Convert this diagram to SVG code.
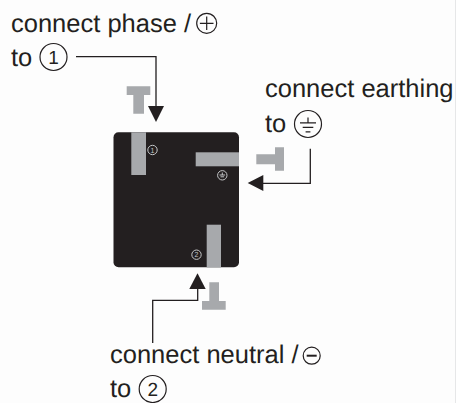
<svg xmlns="http://www.w3.org/2000/svg" width="456" height="403" viewBox="0 0 456 403">
<style>
.t{font-family:"Liberation Sans",Arial,sans-serif;font-size:25.5px;fill:#231f20;text-rendering:geometricPrecision}
.d{font-family:"Liberation Sans",Arial,sans-serif;font-size:19px;fill:#231f20;text-anchor:middle;text-rendering:geometricPrecision}
.b{fill:#a7a9ac}
.l{fill:none;stroke:#231f20;stroke-width:1.3}
.c{fill:none;stroke:#231f20;stroke-width:1.2}
.m{fill:none;stroke:#c4c6c8;stroke-width:1}
.n{font-family:"Liberation Sans",Arial,sans-serif;font-size:7px;fill:#c4c6c8;text-anchor:middle}
.a{fill:#231f20}
</style>
<rect width="456" height="403" fill="#fdfdfd"/>
<g id="device">
<rect x="113.500" y="132.300" width="125.500" height="135" rx="5" fill="#231f20"/>
<rect class="b" x="131.300" y="132.300" width="14.700" height="42.700"/>
<rect class="b" x="195.700" y="152.300" width="43.300" height="14"/>
<rect class="b" x="206.700" y="224.700" width="14.300" height="42.800"/>
<circle class="m" cx="152.500" cy="150" r="4.700"/><text class="n" x="152.500" y="152.500">1</text>
<circle class="m" cx="222.300" cy="175.300" r="4.700"/><path class="m" d="M222.300 172.500v2.500M219.500 175h5.600M220.500 176.800h3.600"/>
<circle class="m" cx="196.500" cy="254.700" r="4.700"/><text class="n" x="196.500" y="257.200">2</text>
</g>
<g id="plug-phase"><path class="b" d="M126.700 86.300H150.300V95H144V113.700H133.300V95H126.700Z"/></g>
<g id="plug-earth"><path class="b" d="M256.300 154.300H275V147.300H284V170.700H275V164.300H256.300Z"/></g>
<g id="plug-neutral"><path class="b" d="M209.300 282.300H219V301H225.700V309.700H202V301H209.300Z"/></g>
<g id="connectors">
<path class="l" d="M76 56.700H156V107"/><path class="a" d="M148 106H164L156 122Z"/>
<path class="l" d="M310.300 148.700V183.300H262"/><path class="a" d="M263.300 175V191L247.700 183Z"/>
<path class="l" d="M152.700 343V300.300H197.700V288"/><path class="a" d="M189.300 289H205.700L197.500 273.300Z"/>
</g>
<g id="label-phase">
<text class="t" x="11" y="32">connect phase /</text>
<circle class="c" cx="206.700" cy="23.300" r="10"/><path class="c" d="M206.700 16.500V30.100M199.900 23.300H213.500"/>
<text class="t" x="11" y="65.500">to</text>
<circle class="c" cx="53.500" cy="57" r="13.500"/><text class="d" x="53.500" y="63.800">1</text>
</g>
<g id="label-earth">
<text class="t" x="265" y="97">connect earthing</text>
<text class="t" x="265" y="131.500">to</text>
<circle class="c" cx="308" cy="124" r="13.500"/><path class="c" d="M308 117.500V122.800M300 122.800H316M302.700 127.300H313.300M305.600 131.800H310.400"/>
</g>
<g id="label-neutral">
<text class="t" x="110" y="363.300">connect neutral /</text>
<circle class="c" cx="311.700" cy="355.700" r="8.500"/><path d="M306.700 355.700H316.700" fill="none" stroke="#231f20" stroke-width="2"/>
<text class="t" x="110" y="397">to</text>
<circle class="c" cx="152.700" cy="389" r="13.500"/><text class="d" x="152.700" y="395.800">2</text>
</g>
<path d="M455.500 0V403" stroke="#e6e7e8" stroke-width="1"/>
</svg>
